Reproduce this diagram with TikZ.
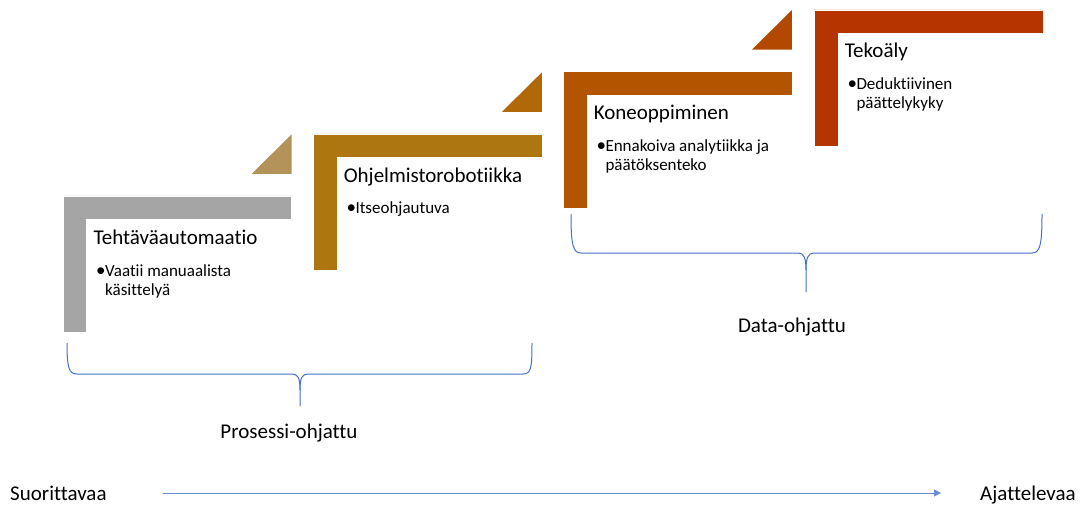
\documentclass[tikz,border=0pt]{standalone}
\usepackage{fontspec}
\setmainfont{Carlito}[Ligatures={NoCommon}]
\usetikzlibrary{arrows.meta}
\definecolor{gstep}{RGB}{165,165,165}
\definecolor{tri1}{RGB}{180,147,90}
\definecolor{bstep}{RGB}{173,118,16}
\definecolor{tri2}{RGB}{177,104,8}
\definecolor{ostep}{RGB}{178,84,0}
\definecolor{tri3}{RGB}{179,72,0}
\definecolor{rstep}{RGB}{182,52,0}
\definecolor{bracecol}{RGB}{68,114,196}
\definecolor{arrowcol}{RGB}{105,140,212}
\tikzset{
  stepbar/.style={line width=0.6pt, draw=white},
  titletext/.style={anchor=base west, inner sep=0pt, font=\fontsize{21}{25}\selectfont},
  bullettext/.style={anchor=base west, inner sep=0pt, font=\fontsize{17}{19}\selectfont},
  bulletdot/.style={anchor=base west, inner sep=0pt, font=\fontsize{19}{19}\selectfont},
  grouplabel/.style={anchor=base, inner sep=0pt, font=\fontsize{21}{25}\selectfont},
  endlabel/.style={anchor=base west, inner sep=0pt, font=\fontsize{21}{25}\selectfont},
  bracepath/.style={draw=bracecol, line width=1pt},
}
% one L-shaped step: #1 = outer top-left x, #2 = outer top y, #3 = colour, #4 = corner triangle colour
\newcommand{\stairstep}[4]{%
  \fill[#3, stepbar] (#1,#2) -- (#1+228.5,#2) -- (#1+228.5,#2+23.3) -- (#1+23.5,#2+23.3)
        -- (#1+23.5,#2+136.5) -- (#1,#2+136.5) -- cycle;
  \ifx\relax#4\relax\else
  \fill[#4] (#1+188.5,#2-22) -- (#1+228.5,#2-22) -- (#1+228.5,#2-61.5) -- cycle;
  \fi
}
\begin{document}
\begin{tikzpicture}[x=1pt,y=-1pt]
\useasboundingbox (0,0) rectangle (1084,505);

% steps (left to right, rising)
\stairstep{63}{196}{gstep}{tri1}
\stairstep{313.3}{134}{bstep}{tri2}
\stairstep{563.3}{71.7}{ostep}{tri3}
\stairstep{814.3}{10}{rstep}{}

% step texts
\node[titletext] (t1) at (93.3,244) {Tehtäväautomaatio};
\node[bulletdot] (d1) at (96,276) {•};
\node[bullettext] (b1a) at (105,276) {Vaatii manuaalista};
\node[bullettext] (b1b) at (105,295) {käsittelyä};

\node[titletext] (t2) at (343.6,182.5) {Ohjelmistorobotiikka};
\node[bulletdot] (d2) at (346.3,214) {•};
\node[bullettext] (b2a) at (355.3,214) {Itseohjautuva};

\node[titletext] (t3) at (593.6,120) {Koneoppiminen};
\node[bulletdot] (d3) at (596.3,152) {•};
\node[bullettext] (b3a) at (605.3,152) {Ennakoiva analytiikka ja};
\node[bullettext] (b3b) at (605.3,171) {päätöksenteko};

\node[titletext] (t4) at (844.6,58) {Tekoäly};
\node[bulletdot] (d4) at (847.3,90) {•};
\node[bullettext] (b4a) at (856.3,90) {Deduktiivinen};
\node[bullettext] (b4b) at (856.3,109) {päättelykyky};

% group braces
\coordinate (p1l) at (67,343);
\coordinate (p1r) at (532,343);
\coordinate (p1t) at (300,406);
\draw[bracepath] (p1l) .. controls (67,368) and (69,374) .. (77,374) -- (292,374)
  .. controls (298,374) and (300,378) .. (300,390) -- (p1t);
\draw[bracepath] (300,390) .. controls (300,378) and (302,374) .. (308,374) -- (523,374)
  .. controls (531,374) and (532,368) .. (p1r);
\node[grouplabel] (g1) at (289,438) {Prosessi-ohjattu};

\coordinate (p2l) at (571,214);
\coordinate (p2r) at (1042,214);
\coordinate (p2t) at (806,292);
\draw[bracepath] (p2l) .. controls (571,245) and (573,253) .. (581,253) -- (798,253)
  .. controls (804,253) and (806,258) .. (806,270) -- (p2t);
\draw[bracepath] (806,270) .. controls (806,258) and (808,253) .. (814,253) -- (1032,253)
  .. controls (1040,253) and (1042,245) .. (p2r);
\node[grouplabel] (g2) at (792,332) {Data-ohjattu};

% bottom axis
\node[endlabel] (s) at (10,500) {Suorittavaa};
\node[endlabel] (a) at (980,500) {Ajattelevaa};
\coordinate (as) at (163,493);
\coordinate (ae) at (941,493);
\draw[arrowcol, line width=1pt, -{Triangle[length=7pt,width=7pt]}] (as) -- (ae);
\end{tikzpicture}
\end{document}
